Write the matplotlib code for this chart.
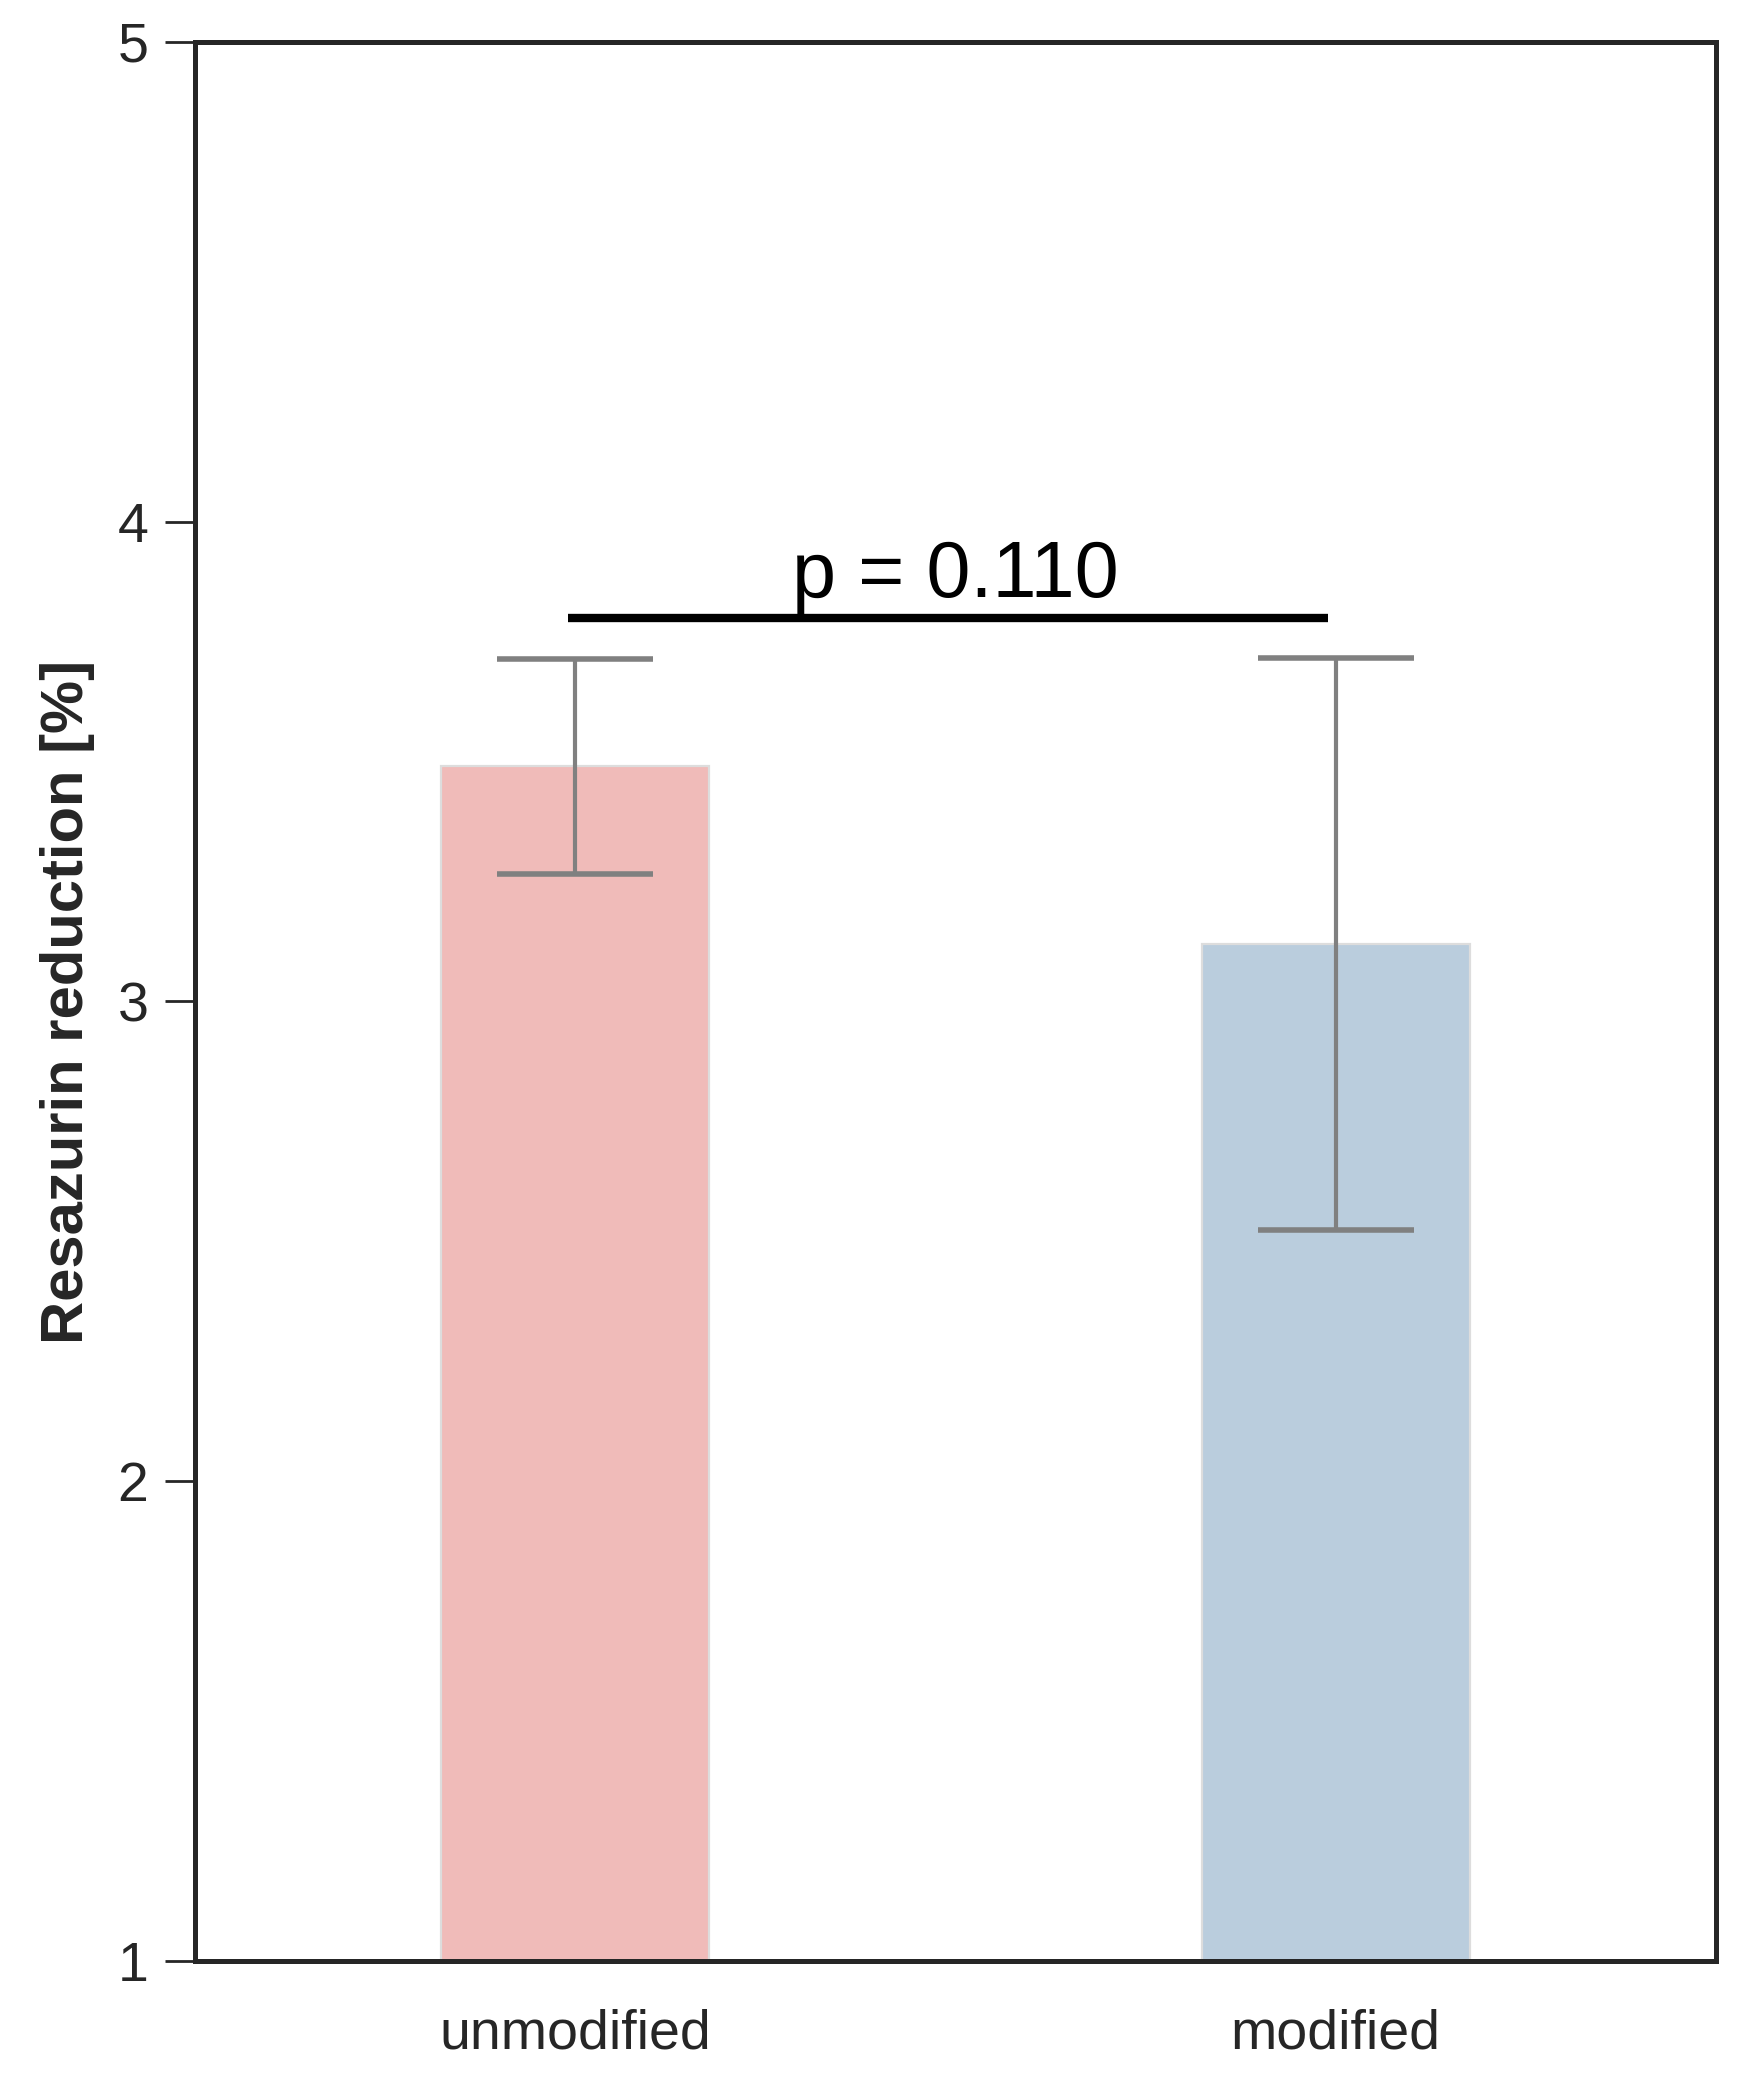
#!/usr/bin/env python3

import matplotlib
matplotlib.use("Agg")
import matplotlib.pyplot as plt
import numpy as np

# values
groups = ["unmodified", "modified"]
means = [3.49, 3.12]
errors = [0.224, 0.596]
bar_colors = ["#f0bbb9", "#bacddd"]
p_label = "p = 0.110"
sig_height = 3.80
y_ticks = [1, 2, 3, 4, 5]

plt.rcParams["font.family"] = ["Liberation Sans", "DejaVu Sans"]
ink = "#262626"

fig = plt.figure(figsize=(8.72, 10.39), dpi=200)
ax = fig.add_axes([0.1118, 0.0563, 0.9839 - 0.1118, 0.9798 - 0.0563])

x = np.arange(len(groups))
ax.bar(x, means, width=0.352, color=bar_colors, edgecolor="#dddddd",
       linewidth=0.8, bottom=0, zorder=1)
ax.errorbar(x, means, yerr=errors, fmt="none", ecolor="#808080",
            elinewidth=1.5, capsize=28, capthick=2.0, zorder=2)

# significance bracket
ax.plot([x[0] - 0.01, x[1] - 0.01], [sig_height, sig_height], color="black",
        linewidth=3, solid_capstyle="butt", zorder=3)
ax.text((x[0] + x[1]) / 2, sig_height + 0.008, p_label, ha="center",
        va="bottom", fontsize=28.5, color="black")

ax.set_xlim(-0.5, 1.5)
ax.set_ylim(1, 5)
ax.set_yticks(y_ticks)
ax.set_xticks(x)
ax.set_xticklabels(groups)
ax.tick_params(axis="y", length=10.8, width=1.0, pad=6, labelsize=20,
               colors=ink)
ax.tick_params(axis="x", length=0, pad=17, labelsize=20, colors=ink)
for s in ax.spines.values():
    s.set_linewidth(1.8)
    s.set_color(ink)

ax.set_ylabel("Resazurin reduction [%]", fontsize=21.5, fontweight="bold",
              color=ink, labelpad=8)

fig.savefig("out.png", dpi=200)
